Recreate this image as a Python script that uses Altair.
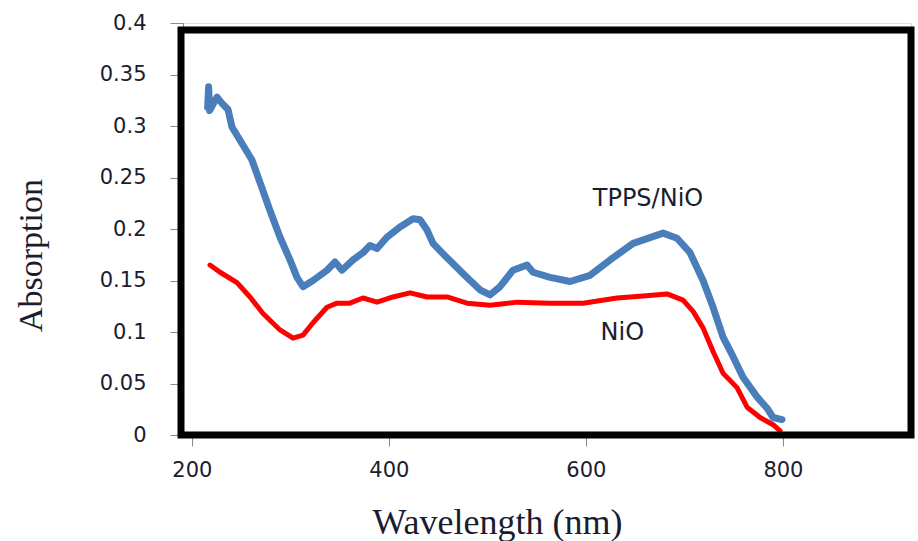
import altair as alt
import pandas as pd

# TPPS/NiO spectrum (blue)
tpps_wl = [216, 217, 218, 225.5, 230.6, 236.7, 240.7, 250.9, 261, 269.2, 279.3, 289.5, 299.6,
           306.7, 312.8, 323, 337.2, 345.3, 352.4, 363.6, 373.7, 380.8, 388, 398, 411.3,
           424.5, 431.6, 438.7, 444.8, 459, 479.3, 492.5, 502.7, 512.8, 526, 540.2, 546.3,
           563.6, 583.9, 604.2, 624.5, 647.9, 678.3, 692.5, 705.7, 718.9, 729.1, 739.2,
           749.4, 759.5, 773.7, 783.9, 790, 799.1]
tpps_abs = [0.318, 0.338, 0.315, 0.328, 0.322, 0.316, 0.299, 0.283, 0.267, 0.245, 0.218, 0.192,
            0.170, 0.153, 0.144, 0.150, 0.160, 0.168, 0.160, 0.170, 0.177, 0.184, 0.181,
            0.192, 0.202, 0.210, 0.209, 0.199, 0.186, 0.172, 0.153, 0.141, 0.136, 0.144,
            0.160, 0.165, 0.158, 0.153, 0.149, 0.155, 0.170, 0.186, 0.196, 0.191, 0.177,
            0.150, 0.124, 0.095, 0.076, 0.056, 0.037, 0.026, 0.017, 0.015]

# NiO spectrum (red)
nio_wl = [218.4, 228.6, 245.8, 259, 272.2, 289.5, 302.7, 312.8, 323, 337.2, 347.3, 360.5,
          373.7, 388, 404.2, 421.5, 438.7, 459, 479.3, 502.7, 530.1, 563.6, 597.1, 631.6,
          658, 682.4, 698.6, 708.8, 718.9, 729.1, 739.2, 753.4, 763.6, 776.8, 790, 797.1]
nio_abs = [0.165, 0.158, 0.148, 0.134, 0.118, 0.102, 0.094, 0.097, 0.109, 0.124, 0.128, 0.128,
           0.133, 0.129, 0.134, 0.138, 0.134, 0.134, 0.128, 0.126, 0.129, 0.128, 0.128, 0.133,
           0.135, 0.137, 0.131, 0.120, 0.104, 0.081, 0.060, 0.046, 0.027, 0.017, 0.010, 0.004]

series_names = ["TPPS/NiO", "NiO"]
series_colors = ["#4a7ebb", "#ff0000"]

label_text = ["TPPS/NiO", "NiO"]
label_x = [663, 637]
label_y = [0.229, 0.099]

x_ticks = [200, 400, 600, 800]
y_ticks = [0, 0.05, 0.1, 0.15, 0.2, 0.25, 0.3, 0.35, 0.4]

df = pd.concat([
    pd.DataFrame({"wl": tpps_wl, "abs": tpps_abs, "series": series_names[0], "order": range(len(tpps_wl))}),
    pd.DataFrame({"wl": nio_wl, "abs": nio_abs, "series": series_names[1], "order": range(len(nio_wl))}),
])
labels_df = pd.DataFrame({"text": label_text, "wl": label_x, "abs": label_y})

label_color = "#1c1c30"

xscale = alt.Scale(domain=[191, 930], nice=False, zero=False)
yscale = alt.Scale(domain=[0, 0.4], nice=False)

x_axis = alt.Axis(values=x_ticks, grid=False, domainColor="#8a8a8a", tickColor="#8a8a8a",
                  tickSize=11, labelFont="DejaVu Sans", labelFontSize=21, labelColor=label_color,
                  labelPadding=13, title="Wavelength (nm)", titleFont="Liberation Serif",
                  titleFontSize=36, titleFontWeight="normal", titleColor=label_color,
                  titleX=314, titleY=98, titleBaseline="alphabetic", titleAnchor="start",
                  titleAlign="center")
y_axis = alt.Axis(values=y_ticks, grid=False, domainColor="#8a8a8a", tickColor="#8a8a8a",
                  tickSize=13, labelFont="DejaVu Sans", labelFontSize=21, labelColor=label_color,
                  labelPadding=24, title="Absorption", titleFont="Liberation Serif",
                  titleFontSize=34, titleFontWeight="normal", titleColor=label_color,
                  titleX=-152, titleY=232, titleAngle=270, titleBaseline="middle",
                  titleAlign="center", labelExpr="datum.value == 0 ? '0' : format(datum.value, '.2~f')")

frame = alt.Chart(pd.DataFrame({"k": [0]})).mark_rect(
    fill=None, stroke="black", strokeWidth=7
).encode(x=alt.value(-2), x2=alt.value(728), y=alt.value(7), y2=alt.value(412))

lines = alt.Chart(df).mark_line(strokeJoin="round", strokeCap="round").encode(
    x=alt.X("wl:Q", scale=xscale, axis=x_axis),
    y=alt.Y("abs:Q", scale=yscale, axis=y_axis),
    color=alt.Color("series:N", scale=alt.Scale(domain=series_names, range=series_colors), legend=None),
    strokeWidth=alt.StrokeWidth("series:N", scale=alt.Scale(domain=series_names, range=[7, 5]), legend=None),
    order="order:Q",
)

texts = alt.Chart(labels_df).mark_text(
    font="DejaVu Sans", fontSize=24, color=label_color, align="center", baseline="middle"
).encode(
    x=alt.X("wl:Q", scale=xscale),
    y=alt.Y("abs:Q", scale=yscale),
    text="text:N",
)

chart = alt.layer(lines, frame, texts).properties(
    width=728, height=412,
    autosize=alt.AutoSizeParams(type="none"),
    padding={"left": 183, "top": 23, "right": 7, "bottom": 106},
).configure_view(stroke=None).configure(background="white")

chart.save("out.html", embed_options={"renderer": "svg", "actions": False})
